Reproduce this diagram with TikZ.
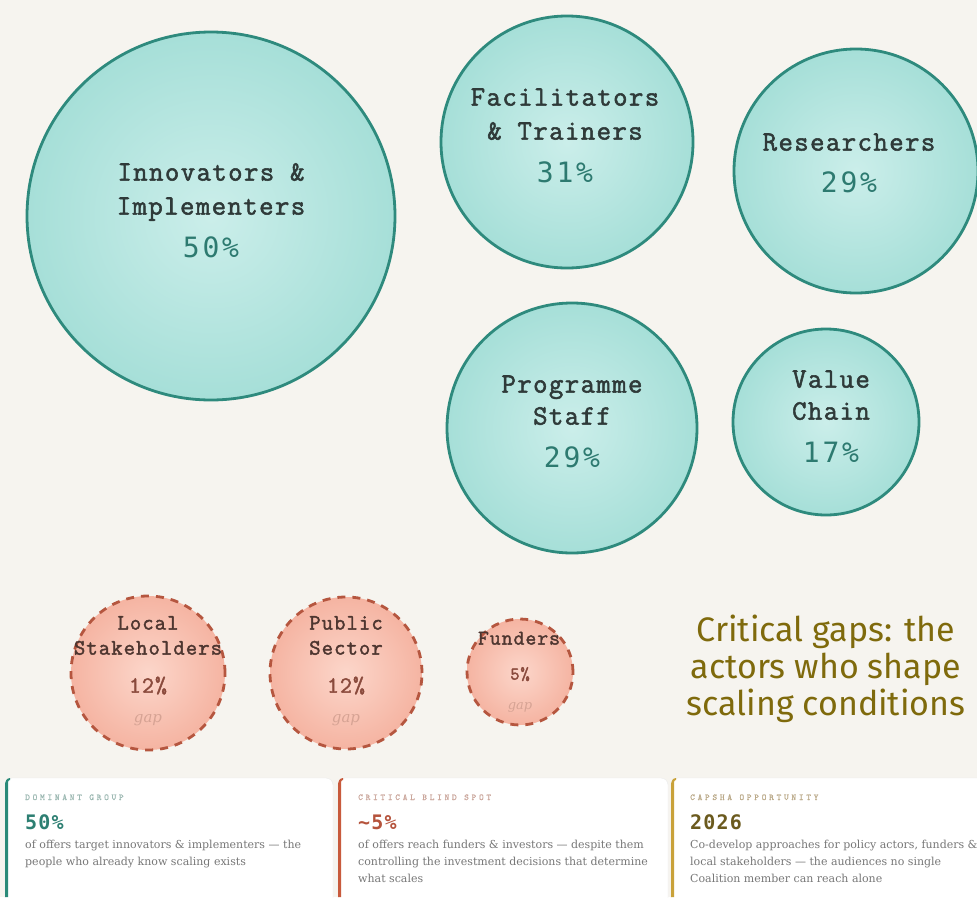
\documentclass[tikz,border=0pt]{standalone}
\usepackage{fontspec}
\setmainfont{DejaVu Serif}
\newfontfamily\cmono[FakeBold=1.9,LetterSpace=5]{Latin Modern Mono}
\newfontfamily\pmono[LetterSpace=10]{DejaVu Sans Mono}
\newfontfamily\nmono[LetterSpace=6]{DejaVu Sans Mono}
\newfontfamily\lblfont[LetterSpace=30,FakeBold=0.6]{Latin Modern Mono}
\newfontfamily\headfont{Fira Sans}
\newfontfamily\bodyfont{DejaVu Serif}
\definecolor{bg}{HTML}{F6F4EF}
\definecolor{tealB}{HTML}{2E8A7D}
\definecolor{tealIn}{HTML}{CBEEEA}
\definecolor{tealOut}{HTML}{A6DFD8}
\definecolor{labelC}{HTML}{2F3A39}
\definecolor{pctC}{HTML}{2D7A70}
\definecolor{gapB}{HTML}{B5563F}
\definecolor{gapIn}{HTML}{FCD6CA}
\definecolor{gapOut}{HTML}{F5B4A2}
\definecolor{gapTxt}{HTML}{4E3630}
\definecolor{gapPct}{HTML}{8A4A3C}
\definecolor{gapWord}{HTML}{D6A394}
\definecolor{headC}{HTML}{7F6A0C}
\definecolor{cardTeal}{HTML}{2A8A78}
\definecolor{cardRed}{HTML}{C85A3C}
\definecolor{cardGold}{HTML}{C9A23A}
\definecolor{bodyC}{HTML}{777777}
\definecolor{lblTeal}{HTML}{9DB9B3}
\definecolor{lblRed}{HTML}{CBA79C}
\definecolor{lblGold}{HTML}{BBAA8A}
\definecolor{numTeal}{HTML}{2D7F72}
\definecolor{numRed}{HTML}{B5533C}
\definecolor{numGold}{HTML}{6B5A1E}
\begin{document}
\begin{tikzpicture}[x=1pt,y=-1pt,
  bubble/.style={circle, draw=tealB, line width=2.8pt, inner color=tealIn, outer color=tealOut, minimum size=#1, inner sep=0pt},
  gapbubble/.style={circle, draw=gapB, line width=2.8pt, dash pattern=on 8pt off 7pt, inner color=gapIn, outer color=gapOut, minimum size=#1, inner sep=0pt},
  lab/.style={anchor=mid, inner sep=0pt, text=labelC, font=\cmono\fontsize{28}{30}\selectfont},
  pct/.style={anchor=mid, inner sep=0pt, text=pctC, font=\pmono\fontsize{28}{30}\selectfont},
  glab/.style={anchor=mid, inner sep=0pt, text=gapTxt, font=\cmono\fontsize{22}{26}\selectfont},
  gpct/.style={anchor=mid, inner sep=0pt, text=gapPct, font=\cmono\fontsize{23}{26}\selectfont},
  gword/.style={anchor=mid, inner sep=0pt, text=gapWord, font=\bodyfont\itshape\fontsize{15}{18}\selectfont},
  cardlbl/.style={anchor=base west, inner sep=0pt, font=\lblfont\fontsize{9}{10}\selectfont},
  cardnum/.style={anchor=base west, inner sep=0pt, font=\nmono\bfseries\fontsize{20}{22}\selectfont},
  cardbody/.style={anchor=north west, inner sep=0pt, align=left, text=bodyC, font=\bodyfont\fontsize{11}{17}\selectfont},
]
\path[use as bounding box] (0,0) rectangle (977,897);
\fill[bg] (0,0) rectangle (977,897);

% teal bubbles
\node[bubble=368pt] (inn) at (211,216) {};
\node[lab] (innA) at (211,178) {Innovators \&};
\node[lab] (innB) at (211,212) {Implementers};
\node[pct] (innP) at (211,255) {50\%};

\node[bubble=252pt] (fac) at (567,142) {};
\node[lab] (facA) at (565,103) {Facilitators};
\node[lab] (facB) at (565,137) {\& Trainers};
\node[pct] (facP) at (565,180) {31\%};

\node[bubble=244pt] (res) at (856,171) {};
\node[lab] (resA) at (849,148) {Researchers};
\node[pct] (resP) at (849,190) {29\%};

\node[bubble=250pt] (prog) at (572,428) {};
\node[lab] (progA) at (572,390) {Programme};
\node[lab] (progB) at (572,422) {Staff};
\node[pct] (progP) at (572,465) {29\%};

\node[bubble=186pt] (val) at (826,422) {};
\node[lab] (valA) at (831,385) {Value};
\node[lab] (valB) at (831,417) {Chain};
\node[pct] (valP) at (831,460) {17\%};

% gap bubbles
\node[gapbubble=154pt] (loc) at (148,673) {};
\node[glab] (locA) at (148,627) {Local};
\node[glab] (locB) at (148,652) {Stakeholders};
\node[gpct] (locP) at (148,690) {12\%};
\node[gword] (locG) at (148,720) {gap};

\node[gapbubble=152pt] (pub) at (346,673) {};
\node[glab] (pubA) at (346,627) {Public};
\node[glab] (pubB) at (346,652) {Sector};
\node[gpct] (pubP) at (346,690) {12\%};
\node[gword] (pubG) at (346,720) {gap};

\node[gapbubble=106pt] (fun) at (520,672) {};
\node[glab, font=\cmono\fontsize{21}{24}\selectfont] (funA) at (519,642) {Funders};
\node[gpct, font=\cmono\fontsize{18}{20}\selectfont] (funP) at (520,677) {5\%};
\node[gword, font=\bodyfont\itshape\fontsize{13}{16}\selectfont] (funG) at (520,707) {gap};

% heading
\node[anchor=center, align=center, inner sep=0pt, text=headC, font=\headfont\fontsize{34}{37}\selectfont] (head) at (826,669)
  {Critical gaps: the\\actors who shape\\scaling conditions};

% cards
\fill[white, rounded corners=7pt] (5,778) rectangle (333,910);
\draw[black!8, rounded corners=7pt] (5,778) rectangle (333,910);
\fill[cardTeal] (5,785) to[out=90,in=180] (10,778) -- (10,780) to[out=180,in=90] (8,786) -- (8,897) -- (5,897) -- cycle;
\fill[white, rounded corners=7pt] (338,778) rectangle (668,910);
\draw[black!8, rounded corners=7pt] (338,778) rectangle (668,910);
\fill[cardRed] (338,785) to[out=90,in=180] (343,778) -- (343,780) to[out=180,in=90] (341,786) -- (341,897) -- (338,897) -- cycle;
\fill[white, rounded corners=7pt] (671,778) rectangle (990,910);
\draw[black!8, rounded corners=7pt] (671,778) rectangle (990,910);
\fill[cardGold] (671,785) to[out=90,in=180] (676,778) -- (676,780) to[out=180,in=90] (674,786) -- (674,897) -- (671,897) -- cycle;

\node[cardlbl, text=lblTeal] (c1l) at (25,800) {DOMINANT GROUP};
\node[cardnum, text=numTeal] (c1n) at (25,829) {50\%};
\node[cardbody] (c1b) at (25,840) {of offers target innovators \& implementers — the\\people who already know scaling exists};

\node[cardlbl, text=lblRed] (c2l) at (358,800) {CRITICAL BLIND SPOT};
\node[cardnum, text=numRed] (c2n) at (358,829) {\textasciitilde5\%};
\node[cardbody] (c2b) at (358,840) {of offers reach funders \& investors — despite them\\controlling the investment decisions that determine\\what scales};

\node[cardlbl, text=lblGold] (c3l) at (690,800) {CAPSHA OPPORTUNITY};
\node[cardnum, text=numGold] (c3n) at (690,829) {2026};
\node[cardbody] (c3b) at (690,840) {Co-develop approaches for policy actors, funders \&\\local stakeholders — the audiences no single\\Coalition member can reach alone};
\end{tikzpicture}
\end{document}
